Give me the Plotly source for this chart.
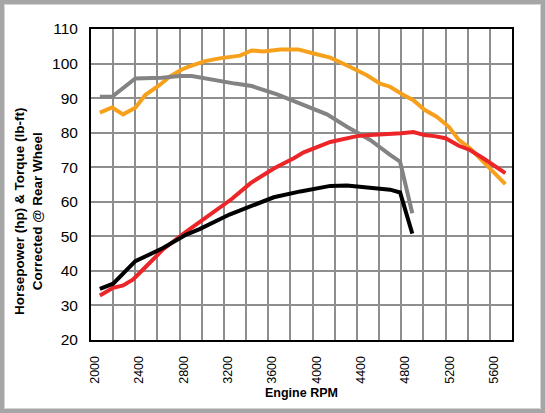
import plotly.graph_objects as go

# ---- data ----
gray_rpm = [2080, 2190, 2400, 2640, 2800, 2910, 3300, 3450, 3680, 3890, 4130, 4310, 4520, 4700, 4790, 4900]
gray_val = [90.4, 90.4, 95.7, 95.9, 96.4, 96.4, 94.2, 93.5, 91.1, 88.5, 85.3, 81.7, 77.9, 73.6, 71.6, 56.7]

black_rpm = [2080, 2200, 2400, 2530, 2650, 2860, 2980, 3250, 3440, 3650, 3890, 4160, 4310, 4550, 4700, 4790, 4900]
black_val = [34.8, 36.3, 42.8, 44.7, 46.6, 50.5, 52.1, 56.3, 58.6, 61.3, 63.0, 64.6, 64.7, 64.1, 63.5, 62.7, 50.8]

red_rpm = [2080, 2200, 2290, 2380, 2470, 2650, 2860, 3070, 3270, 3440, 3650, 3830, 3920, 4160, 4400, 4520,
           4700, 4800, 4910, 5010, 5100, 5200, 5320, 5420, 5540, 5740]
red_val = [32.9, 35.1, 35.8, 37.5, 40.4, 46.2, 51.4, 56.3, 60.8, 65.4, 69.6, 72.6, 74.3, 77.3, 79.0, 79.3,
           79.5, 79.8, 80.2, 79.3, 79.0, 78.4, 76.2, 75.0, 72.6, 68.3]

orange_rpm = [2080, 2190, 2290, 2400, 2490, 2620, 2710, 2820, 2890, 3030, 3160, 3300, 3345, 3450, 3555, 3710,
              3870, 4010, 4160, 4340, 4490, 4610, 4700, 4820, 4910, 5010, 5120, 5230, 5320, 5420, 5540, 5650, 5740]
orange_val = [85.8, 87.3, 85.3, 87.2, 90.9, 93.8, 96.2, 98.3, 99.2, 100.7, 101.5, 102.2, 102.3, 103.8, 103.5, 104.1,
              104.1, 102.9, 101.7, 99.0, 96.6, 94.2, 93.3, 90.9, 89.4, 86.6, 84.6, 81.7, 77.9, 75.5, 71.6, 68.3, 65.1]

x_tick_vals = list(range(2000, 5801, 400))
x_tick_text = [str(v) if v <= 5600 else "" for v in x_tick_vals]
y_tick_vals = list(range(20, 111, 10))

FONT = "Liberation Sans, Arial, Helvetica, sans-serif"
GRID = "#8E8E8E"

fig = go.Figure()
series = [
    (orange_rpm, orange_val, "#F7A01C"),
    (gray_rpm, gray_val, "#838383"),
    (red_rpm, red_val, "#EC2529"),
    (black_rpm, black_val, "#000000"),
]
for xs, ys, c in series:
    fig.add_trace(go.Scatter(x=xs, y=ys, mode="lines", line=dict(color=c, width=4),
                             showlegend=False, hoverinfo="skip"))

L, R, T, B = 91, 33, 29, 73
W, H = 545, 413
pw, ph = W - L - R, H - T - B

def px_x(p):
    return (p - L) / pw

def px_y(p):
    return (H - B - p) / ph

fig.update_layout(
    template="none",
    width=W, height=H,
    margin=dict(l=L, r=R, t=T, b=B, pad=0),
    paper_bgcolor="white",
    plot_bgcolor="white",
    font=dict(family=FONT, color="black"),
    shapes=[
        dict(type="rect", xref="paper", yref="paper", layer="above",
             x0=px_x(0), x1=px_x(545), y0=px_y(413), y1=px_y(0),
             fillcolor="rgba(0,0,0,0)", line=dict(color="#A6A6A6", width=8)),
        dict(type="rect", xref="paper", yref="paper", layer="above",
             x0=px_x(4.5), x1=px_x(540.5), y0=px_y(408.5), y1=px_y(4.5),
             fillcolor="rgba(0,0,0,0)", line=dict(color="#D4D4D4", width=1)),
    ],
    annotations=[
        dict(text="<b>Engine RPM</b>", xref="paper", yref="paper",
             x=px_x(301), y=px_y(393), xanchor="center", yanchor="middle",
             showarrow=False, font=dict(size=12.5, family=FONT)),
        dict(text="<b>Horsepower (hp) & Torque (lb-ft)<br>Corrected @ Rear Wheel</b>",
             xref="paper", yref="paper", x=px_x(28), y=px_y(212),
             xanchor="center", yanchor="middle", textangle=-90, align="center",
             showarrow=False, font=dict(size=13.5, family=FONT)),
    ],
)
fig.update_xaxes(
    range=[2000, 5800], tickmode="array", tickvals=x_tick_vals, ticktext=x_tick_text, tickangle=-90,
    showgrid=True, gridcolor=GRID, gridwidth=1.5,
    minor=dict(tick0=2000, dtick=200, showgrid=True, gridcolor=GRID, gridwidth=1.5, ticks=""),
    showline=True, linecolor="black", linewidth=2, mirror=True,
    ticks="outside", ticklen=9, tickcolor="white", ticklabelshift=4,
    tickfont=dict(size=12.5, family=FONT), zeroline=False,
)
fig.update_yaxes(
    range=[20, 110], tickmode="array", tickvals=y_tick_vals,
    showgrid=True, gridcolor=GRID, gridwidth=1.5,
    showline=True, linecolor="black", linewidth=2, mirror=True,
    ticks="outside", ticklen=8, tickcolor="white",
    tickfont=dict(size=15.5, family=FONT), zeroline=False,
)

fig.write_html("out.html", config={"displayModeBar": False},
               post_script="document.body.style.margin='0';document.body.style.overflow='hidden';")
